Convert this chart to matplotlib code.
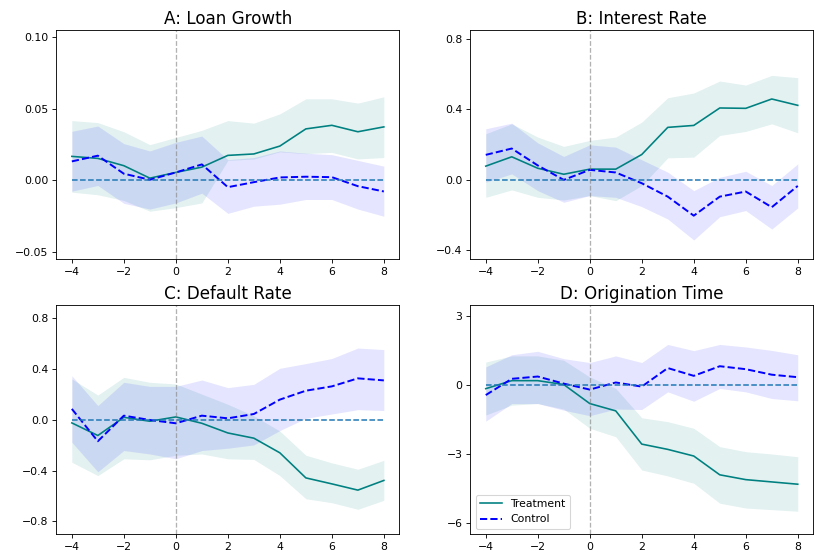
import matplotlib
matplotlib.use("Agg")
import matplotlib.pyplot as plt
import numpy as np

event_time = [-4, -3, -2, -1, 0, 1, 2, 3, 4, 5, 6, 7, 8]

# Panel A: Loan Growth
loan_treat = [0.0168, 0.0154, 0.0103, 0.0016, 0.0056, 0.0093, 0.0175, 0.0185, 0.0240, 0.0360, 0.0385, 0.0340, 0.0374]
loan_treat_hi = [0.0418, 0.0404, 0.0340, 0.0250, 0.0300, 0.0350, 0.0418, 0.0400, 0.0465, 0.0570, 0.0570, 0.0540, 0.0584]
loan_treat_lo = [-0.0082, -0.0100, -0.0140, -0.0215, -0.0190, -0.0157, 0.0140, 0.0150, 0.0200, 0.0187, 0.0196, 0.0150, 0.0160]
loan_ctrl = [0.0133, 0.0173, 0.0047, 0.0005, 0.0056, 0.0112, -0.0047, -0.0012, 0.0021, 0.0026, 0.0023, -0.0040, -0.0077]
loan_ctrl_hi = [0.0343, 0.0380, 0.0257, 0.0206, 0.0266, 0.0310, 0.0145, 0.0160, 0.0206, 0.0190, 0.0180, 0.0140, 0.0100]
loan_ctrl_lo = [-0.0075, -0.0035, -0.0160, -0.0200, -0.0157, -0.0089, -0.0230, -0.0180, -0.0166, -0.0133, -0.0133, -0.0200, -0.0250]

# Panel B: Interest Rate
rate_treat = [0.078, 0.131, 0.066, 0.032, 0.061, 0.061, 0.144, 0.298, 0.309, 0.408, 0.406, 0.459, 0.423]
rate_treat_hi = [0.262, 0.318, 0.243, 0.190, 0.224, 0.243, 0.328, 0.466, 0.493, 0.561, 0.538, 0.593, 0.580]
rate_treat_lo = [-0.099, -0.057, -0.099, -0.114, -0.089, -0.118, -0.032, 0.125, 0.129, 0.252, 0.275, 0.318, 0.267]
rate_ctrl = [0.142, 0.178, 0.082, 0.000, 0.057, 0.042, -0.019, -0.095, -0.203, -0.095, -0.066, -0.155, -0.034]
rate_ctrl_hi = [0.290, 0.322, 0.210, 0.133, 0.199, 0.186, 0.114, 0.044, -0.061, 0.015, 0.049, -0.032, 0.091]
rate_ctrl_lo = [-0.013, 0.034, -0.061, -0.127, -0.089, -0.099, -0.152, -0.222, -0.341, -0.209, -0.174, -0.279, -0.159]

# Panel C: Default Rate
default_treat = [-0.026, -0.125, 0.018, -0.013, 0.021, -0.029, -0.105, -0.146, -0.261, -0.458, -0.505, -0.554, -0.478]
default_treat_hi = [0.319, 0.193, 0.332, 0.293, 0.280, 0.200, 0.120, 0.030, -0.090, -0.280, -0.340, -0.390, -0.320]
default_treat_lo = [-0.335, -0.440, -0.308, -0.316, -0.280, -0.270, -0.308, -0.313, -0.440, -0.622, -0.653, -0.705, -0.634]
default_ctrl = [0.084, -0.170, 0.031, -0.003, -0.029, 0.031, 0.010, 0.044, 0.157, 0.227, 0.261, 0.324, 0.308]
default_ctrl_hi = [0.345, 0.110, 0.293, 0.261, 0.261, 0.311, 0.251, 0.277, 0.403, 0.440, 0.480, 0.562, 0.550]
default_ctrl_lo = [-0.178, -0.410, -0.243, -0.270, -0.308, -0.243, -0.225, -0.199, -0.086, 0.010, 0.044, 0.078, 0.071]

# Panel D: Origination Time
orig_treat = [-0.15, 0.20, 0.20, 0.03, -0.80, -1.12, -2.57, -2.80, -3.09, -3.91, -4.12, -4.22, -4.32]
orig_treat_hi = [1.01, 1.28, 1.28, 1.09, 0.36, -0.14, -1.42, -1.59, -1.88, -2.68, -2.90, -3.00, -3.12]
orig_treat_lo = [-1.30, -0.87, -0.80, -1.04, -1.88, -2.25, -3.70, -3.96, -4.28, -5.15, -5.36, -5.43, -5.50]
orig_ctrl = [-0.43, 0.28, 0.38, 0.07, -0.19, 0.12, -0.06, 0.75, 0.41, 0.83, 0.70, 0.46, 0.35]
orig_ctrl_hi = [0.80, 1.33, 1.48, 1.16, 0.99, 1.28, 0.99, 1.78, 1.51, 1.78, 1.67, 1.52, 1.33]
orig_ctrl_lo = [-1.57, -0.80, -0.80, -1.09, -1.33, -1.04, -1.06, -0.29, -0.70, -0.14, -0.29, -0.58, -0.68]

panels = [
    ("A: Loan Growth", loan_treat, loan_treat_lo, loan_treat_hi, loan_ctrl, loan_ctrl_lo, loan_ctrl_hi,
     (-0.055, 0.105), [-0.05, 0.0, 0.05, 0.10]),
    ("B: Interest Rate", rate_treat, rate_treat_lo, rate_treat_hi, rate_ctrl, rate_ctrl_lo, rate_ctrl_hi,
     (-0.45, 0.85), [-0.4, 0.0, 0.4, 0.8]),
    ("C: Default Rate", default_treat, default_treat_lo, default_treat_hi, default_ctrl, default_ctrl_lo, default_ctrl_hi,
     (-0.9, 0.9), [-0.8, -0.4, 0.0, 0.4, 0.8]),
    ("D: Origination Time", orig_treat, orig_treat_lo, orig_treat_hi, orig_ctrl, orig_ctrl_lo, orig_ctrl_hi,
     (-6.5, 3.5), [-6, -3, 0, 3]),
]

DPI = 78


def main():
    fig, axes = plt.subplots(2, 2, figsize=(815 / DPI, 557 / DPI), dpi=DPI)
    fig.subplots_adjust(left=0.069, right=0.998, top=0.946, bottom=0.041, wspace=0.206, hspace=0.20)

    x = np.array(event_time)
    for ax, (title, t, t_lo, t_hi, c, c_lo, c_hi, ylim, yticks) in zip(axes.flat, panels):
        ax.fill_between(x, t_lo, t_hi, color="teal", alpha=0.11, linewidth=0)
        ax.fill_between(x, c_lo, c_hi, color="blue", alpha=0.1, linewidth=0)
        ax.plot(x, t, color="teal", linewidth=1.5, label="Treatment")
        ax.plot(x, c, color="blue", linestyle="--", linewidth=1.8, label="Control")
        # zero reference only across the event window
        ax.plot(x, np.zeros_like(x, dtype=float), color="tab:blue", linestyle="--", linewidth=1.4)
        ax.axvline(0, color="gray", linestyle="--", alpha=0.6, linewidth=1.2)
        ax.set_title(title, fontsize=15.5)
        ax.set_ylim(*ylim)
        ax.set_yticks(yticks)
        ax.set_xticks([-4, -2, 0, 2, 4, 6, 8])

    axes[1, 1].legend(loc="lower left")
    fig.savefig("out.png", dpi=DPI)
    plt.close(fig)


if __name__ == "__main__":
    main()
